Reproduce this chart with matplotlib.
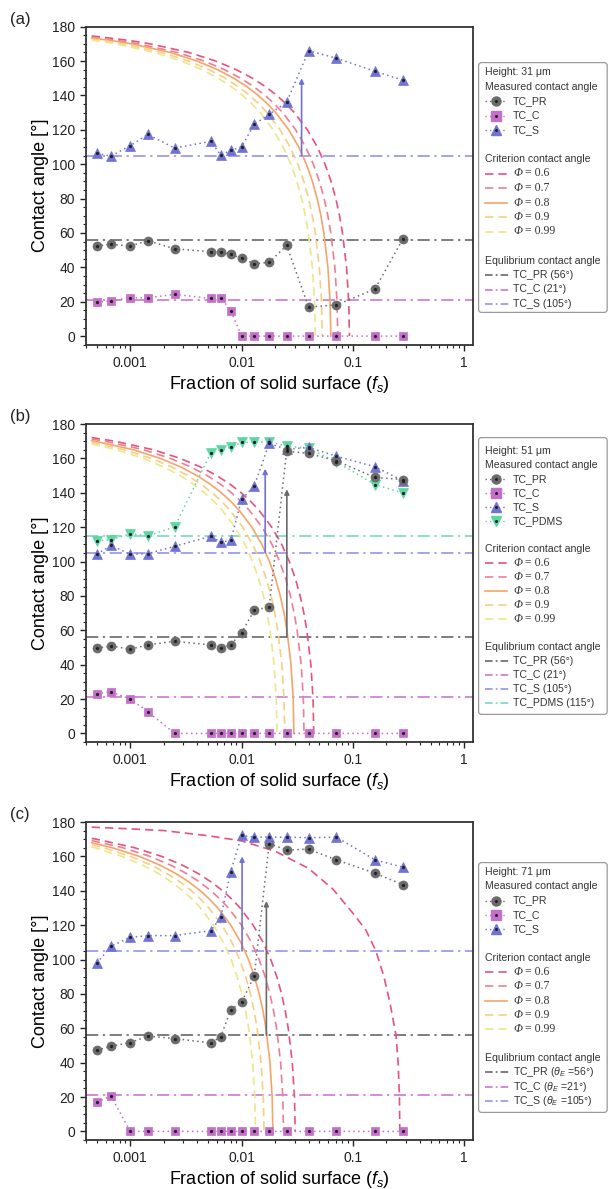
import matplotlib
matplotlib.use("Agg")
import matplotlib.pyplot as plt
from matplotlib.patches import FancyBboxPatch
from matplotlib.ticker import MultipleLocator, LogLocator, NullFormatter

plt.rcParams['font.family'] = ['Liberation Sans', 'DejaVu Sans']
plt.rcParams['mathtext.fontset'] = 'custom'
plt.rcParams['mathtext.rm'] = 'Liberation Sans'
plt.rcParams['mathtext.it'] = 'Liberation Sans:italic'

W, H = 609, 1189

# fraction of solid surface of the measured samples
FS = [0.0005, 0.00067, 0.001, 0.00144, 0.0025, 0.0053, 0.0065, 0.008,
      0.01, 0.013, 0.0177, 0.0254, 0.04, 0.071, 0.158, 0.28]

# (a) height 31 um
A_PR = [52.4, 53.4, 52.4, 55.5, 50.8, 49.1, 49.1, 47.5, 45.2, 42.1, 42.9, 52.8, 16.9, 18.1, 27.4, 56.3]
A_C = [19.6, 20.6, 22.3, 22.3, 24.3, 21.9, 22.3, 14.8, 0, 0, 0, 0, 0, 0, 0, 0]
A_S = [106.3, 104.7, 110.8, 117.3, 109.4, 113.3, 105.3, 108, 110.2, 123.2, 129, 136, 166, 161.7, 154, 149]

# (b) height 51 um
B_PR = [49.5, 50.9, 49.0, 51.5, 53.6, 51.5, 49.5, 51.7, 58.5, 71.7, 73.5, 164.2, 162.9, 158.6, 148.9, 147.7]
B_C = [22.9, 24.3, 20.0, 12.6, 0, 0, 0, 0, 0, 0, 0, 0, 0, 0, 0, 0]
B_S = [104.2, 109.4, 104.2, 104.6, 108.8, 114.7, 111.2, 112.3, 136.1, 144.0, 168.7, 165.2, 166.4, 161.3, 155.1, 147.0]
B_PDMS = [112.0, 112.7, 116.2, 114.9, 120.1, 163.3, 164.8, 166.4, 169.3, 169.3, 169.7, 167.1, 165.8, 158.0, 144.8, 139.9]

# (c) height 71 um
C_PR = [47.2, 49.5, 51.7, 55.4, 54.0, 51.5, 55.0, 70.9, 75.0, 90.6, 167.4, 163.7, 164.2, 158.0, 150.2, 143.6]
C_C = [17.1, 20.6, 0, 0, 0, 0, 0, 0, 0, 0, 0, 0, 0, 0, 0, 0]
C_S = [97.8, 107.7, 112.9, 113.9, 113.9, 116.8, 124.6, 151.2, 172.2, 171.2, 171.2, 171.2, 170.9, 171.2, 158.0, 153.7]

# equilibrium contact angles
EQ_PR, EQ_C, EQ_S, EQ_PDMS = 56, 21, 105, 115

# arrows: (fs, from, to)
A_ARROWS = [(0.0346, 105, 150)]
B_ARROWS = [(0.0163, 105, 154), (0.0255, 56, 142)]
C_ARROWS = [(0.0101, 105, 160), (0.0167, 56, 134)]

# criterion curves: angle levels and the fs where each curve crosses them
CRIT_THETA = [176, 174, 172, 170, 165, 160, 155, 150, 145, 140, 135, 130,
              120, 110, 100, 90, 80, 70, 60, 40, 20, 0]
CRIT_FS0 = 0.00045   # left start of the curves
PHI = [0.6, 0.7, 0.8, 0.9, 0.99]

A_START = [174.6, 173.9, 173.4, 172.8, 172.3]
A_CRIT = [
    [0.00055, 0.000975, 0.001517, 0.003366, 0.00587, 0.008952, 0.01252, 0.01649, 0.02075, 0.02521, 0.0298,
     0.03902, 0.04793, 0.05621, 0.06368, 0.07025, 0.07591, 0.08068, 0.08773, 0.09178, 0.0931],
    [0.000765, 0.001191, 0.002643, 0.004609, 0.007029, 0.009832, 0.012945, 0.01629, 0.019795, 0.023394,
     0.030637, 0.037636, 0.044138, 0.05, 0.055158, 0.059599, 0.063345, 0.068884, 0.072065, 0.0731],
    [0.000663, 0.001032, 0.002289, 0.003991, 0.006086, 0.008514, 0.011209, 0.014106, 0.017142, 0.020258,
     0.02653, 0.032591, 0.038221, 0.043297, 0.047764, 0.051609, 0.054853, 0.059649, 0.062404, 0.0633],
    [0.000555, 0.000864, 0.001916, 0.003342, 0.005096, 0.007129, 0.009385, 0.011811, 0.014352, 0.016962,
     0.022213, 0.027288, 0.032001, 0.036251, 0.039992, 0.043211, 0.045927, 0.049943, 0.05225, 0.053],
    [0.000481, 0.000748, 0.00166, 0.002894, 0.004413, 0.006174, 0.008128, 0.010229, 0.01243, 0.014689,
     0.019237, 0.023632, 0.027714, 0.031395, 0.034634, 0.037423, 0.039775, 0.043253, 0.04525, 0.0459],
]
B_START = [172.1, 171.3, 170.3, 169.35, 168.45]
B_CRIT = [
    [0.000725, 0.001609, 0.002806, 0.004279, 0.005985, 0.00788, 0.009917, 0.012051, 0.014241, 0.01865,
     0.022911, 0.026869, 0.030438, 0.033578, 0.036281, 0.038561, 0.041934, 0.04387, 0.0445],
    [0.000593, 0.001316, 0.002295, 0.0035, 0.004896, 0.006446, 0.008112, 0.009857, 0.011649, 0.015256,
     0.018741, 0.021978, 0.024897, 0.027466, 0.029677, 0.031542, 0.034301, 0.035885, 0.0364],
    [0.000481, 0.001067, 0.00186, 0.002836, 0.003968, 0.005224, 0.006574, 0.007989, 0.009441, 0.012364,
     0.015188, 0.017812, 0.020178, 0.02226, 0.024052, 0.025563, 0.027799, 0.029082, 0.0295],
    [0.000882, 0.001539, 0.002346, 0.003282, 0.004321, 0.005438, 0.006608, 0.007809, 0.010226, 0.012563,
     0.014733, 0.016689, 0.018411, 0.019894, 0.021144, 0.022993, 0.024054, 0.0244],
    [0.000752, 0.001312, 0.002, 0.002798, 0.003683, 0.004635, 0.005633, 0.006657, 0.008717, 0.010709,
     0.012559, 0.014227, 0.015695, 0.016958, 0.018024, 0.0196, 0.020505, 0.0208],
]
C_START = [170.46, 169.2, 167.95, 166.77, 165.5]
C_CRIT = [
    [0.000494, 0.001096, 0.001911, 0.002913, 0.004075, 0.005366, 0.006752, 0.008205, 0.009697, 0.012699,
     0.0156, 0.018295, 0.020725, 0.022863, 0.024704, 0.026256, 0.028553, 0.029871, 0.0303],
    [0.00086, 0.001501, 0.002288, 0.003201, 0.004215, 0.005304, 0.006445, 0.007617, 0.009975, 0.012254,
     0.01437, 0.016279, 0.017959, 0.019404, 0.020624, 0.022427, 0.023463, 0.0238],
    [0.000691, 0.001204, 0.001836, 0.002569, 0.003382, 0.004256, 0.005172, 0.006113, 0.008005, 0.009834,
     0.011533, 0.013064, 0.014412, 0.015572, 0.016551, 0.017999, 0.01883, 0.0191],
    [0.000575, 0.001003, 0.001529, 0.002139, 0.002816, 0.003543, 0.004306, 0.005088, 0.006664, 0.008186,
     0.0096, 0.010875, 0.011998, 0.012963, 0.013778, 0.014983, 0.015675, 0.0159],
    [0.000482, 0.000841, 0.001283, 0.001794, 0.002362, 0.002973, 0.003612, 0.004269, 0.005591, 0.006868,
     0.008055, 0.009124, 0.010066, 0.010876, 0.01156, 0.012571, 0.013151, 0.01334],
]
# extra wide curve in (c), read point by point
C_ARC_FS = [0.00045, 0.001, 0.002, 0.005, 0.01, 0.02, 0.04, 0.066, 0.1, 0.131,
            0.161, 0.19, 0.215, 0.244, 0.255, 0.262, 0.264]
C_ARC_TH = [177, 176, 175, 172, 169, 163, 153, 141, 127, 117,
            105, 90, 75, 56, 40, 20, 0]

# colours
PR_COL, C_COL, S_COL, PDMS_COL = '#6b6b6b', '#c46fc9', '#6f73d4', '#5ed6a4'
EQ_COLS = {'PR': '#5a5a5a', 'C': '#c86ccc', 'S': '#8a8ae8', 'PDMS': '#6cd6b8'}
CRIT_COLS = ['#e8527c', '#f07d96', '#f5a56b', '#f6cf83', '#eee68a']
CRIT_LS = [(0, (5, 3)), (0, (5, 3)), '-', (0, (5, 3)), (0, (5, 3))]
DOT = (0, (1, 2.2))
DASHDOT = (0, (8, 3, 1.5, 3))
TXT = '#333333'
LEG_FS = 7.6

fig = plt.figure(figsize=(W / 100, H / 100), dpi=100)


def px_rect(l, t, r, b):
    return [l / W, 1 - b / H, (r - l) / W, (b - t) / H]


def series(ax, y, col, marker, ms=6.5):
    ax.plot(FS, y, linestyle=DOT, color=col, lw=1.1, marker=marker, ms=ms,
            mfc=col, mec=col, mew=0.5, zorder=4)
    ax.plot(FS, y, 'o', ms=1.3, color='#222222', zorder=5, ls='none')


def crit(ax, starts, curves):
    for i, fs in enumerate(curves):
        th = CRIT_THETA[-len(fs):]
        ax.plot([CRIT_FS0] + fs, [starts[i]] + th, color=CRIT_COLS[i],
                ls=CRIT_LS[i], lw=1.2, zorder=2)


def style_axes(ax):
    ax.set_xscale('log')
    ax.set_xlim(4e-4, 1.2)
    ax.set_ylim(-5, 180)
    ax.set_yticks(range(0, 181, 20))
    ax.yaxis.set_minor_locator(MultipleLocator(5))
    ax.set_xticks([0.001, 0.01, 0.1, 1])
    ax.set_xticklabels(['0.001', '0.01', '0.1', '1'])
    ax.xaxis.set_minor_locator(LogLocator(base=10, subs=range(2, 10)))
    ax.xaxis.set_minor_formatter(NullFormatter())
    ax.tick_params(which='major', direction='out', length=4.5, width=1,
                   labelsize=10, colors='#222222')
    ax.tick_params(which='minor', direction='out', length=2.5, width=0.8,
                   colors='#222222')
    for s in ax.spines.values():
        s.set_color('#333333')
        s.set_linewidth(1.3)
    ax.set_xlabel(r'Fraction of solid surface ($f_s$)', fontsize=13, labelpad=3)
    ax.set_ylabel('Contact angle [°]', fontsize=13, labelpad=2)


def arrows(ax, items, cols):
    for (x, y0, y1), c in zip(items, cols):
        ax.annotate('', xy=(x, y1), xytext=(x, y0),
                    arrowprops=dict(arrowstyle='-|>', color=c, lw=1.2,
                                    mutation_scale=7, shrinkA=0, shrinkB=0),
                    zorder=6)


def legend(box, first, step, rows):
    l, t, r, b = box
    lax = fig.add_axes(px_rect(l, t, r, b))
    lax.set_xlim(0, r - l)
    lax.set_ylim(b - t, 0)
    lax.axis('off')
    lax.add_patch(FancyBboxPatch((0.6, 0.6), r - l - 1.4, b - t - 1.2,
                                 boxstyle='round,pad=0,rounding_size=3',
                                 fc='white', ec='#9a9a9a', lw=0.9, clip_on=False))
    for i, row in enumerate(rows):
        y = first + i * step
        kind = row[0]
        if kind == 'head':
            lax.text(7, y, row[1], fontsize=LEG_FS, color=TXT, va='center')
        elif kind == 'mark':
            _, lab, col, mk = row
            lax.plot([7, 29], [y, y], ls=DOT, color=col, lw=1.0)
            lax.plot(18, y, marker=mk, ms=6.5, color=col, ls='none')
            lax.plot(18, y, 'o', ms=1.2, color='#222222', ls='none')
            lax.text(35, y, lab, fontsize=LEG_FS, color=TXT, va='center')
        elif kind == 'phi':
            _, k = row
            lax.plot([7, 29], [y, y], ls=CRIT_LS[k], color=CRIT_COLS[k], lw=1.2)
            lax.text(35, y, 'Φ', family='Liberation Serif', style='italic',
                     fontsize=8.5, color=TXT, va='center')
            lax.text(47, y, '= %g' % PHI[k], family='Liberation Serif',
                     fontsize=8.5, color=TXT, va='center')
        elif kind == 'eq':
            _, lab, col = row
            lax.plot([7, 31], [y, y], ls=(0, (5, 2, 1.2, 2)), color=col, lw=1.1)
            lax.text(35, y, lab, fontsize=LEG_FS, color=TXT, va='center')


AX_TOPS = [26.7, 424, 822]
AX_H = 318
panels = []
for t in AX_TOPS:
    panels.append(fig.add_axes(px_rect(86, t, 473, t + AX_H)))

# ---- panel (a)
ax = panels[0]
for v, k in [(EQ_PR, 'PR'), (EQ_C, 'C'), (EQ_S, 'S')]:
    ax.axhline(v, ls=DASHDOT, color=EQ_COLS[k], lw=1.1, zorder=1)
crit(ax, A_START, A_CRIT)
series(ax, A_PR, PR_COL, 'o')
series(ax, A_C, C_COL, 's', 6)
series(ax, A_S, S_COL, '^', 7)
arrows(ax, A_ARROWS, [S_COL])
style_axes(ax)

# ---- panel (b)
ax = panels[1]
for v, k in [(EQ_PR, 'PR'), (EQ_C, 'C'), (EQ_S, 'S'), (EQ_PDMS, 'PDMS')]:
    ax.axhline(v, ls=DASHDOT, color=EQ_COLS[k], lw=1.1, zorder=1)
crit(ax, B_START, B_CRIT)
series(ax, B_PDMS, PDMS_COL, 'v', 7)
series(ax, B_C, C_COL, 's', 6)
series(ax, B_S, S_COL, '^', 7)
series(ax, B_PR, PR_COL, 'o')
arrows(ax, B_ARROWS, [S_COL, '#6b6b6b'])
style_axes(ax)

# ---- panel (c)
ax = panels[2]
for v, k in [(EQ_PR, 'PR'), (EQ_C, 'C'), (EQ_S, 'S')]:
    ax.axhline(v, ls=DASHDOT, color=EQ_COLS[k], lw=1.1, zorder=1)
ax.plot(C_ARC_FS, C_ARC_TH, color=CRIT_COLS[0], ls=CRIT_LS[0], lw=1.2, zorder=2)
crit(ax, C_START, C_CRIT)
series(ax, C_PR, PR_COL, 'o')
series(ax, C_C, C_COL, 's', 6)
series(ax, C_S, S_COL, '^', 7)
arrows(ax, C_ARROWS, [S_COL, '#6b6b6b'])
style_axes(ax)

for t, lab in zip(AX_TOPS, ['(a)', '(b)', '(c)']):
    fig.text(10 / W, 1 - (t - 7) / H, lab, fontsize=12, va='center', ha='left', color='#222222')

meas = [('mark', 'TC_PR', PR_COL, 'o'), ('mark', 'TC_C', C_COL, 's'), ('mark', 'TC_S', S_COL, '^')]
phis = [('phi', k) for k in range(5)]

legend((478, 62, 608, 313), 10, 14.5,
       [('head', 'Height: 31 μm'), ('head', 'Measured contact angle')] + meas +
       [('blank',), ('head', 'Criterion contact angle')] + phis +
       [('blank',), ('head', 'Equlibrium contact angle'),
        ('eq', 'TC_PR (56°)', EQ_COLS['PR']), ('eq', 'TC_C (21°)', EQ_COLS['C']),
        ('eq', 'TC_S (105°)', EQ_COLS['S'])])

legend((478, 437, 608, 715), 14, 14.0,
       [('head', 'Height: 51 μm'), ('head', 'Measured contact angle')] + meas +
       [('mark', 'TC_PDMS', PDMS_COL, 'v'), ('blank',), ('head', 'Criterion contact angle')] + phis +
       [('blank',), ('head', 'Equlibrium contact angle'),
        ('eq', 'TC_PR (56°)', EQ_COLS['PR']), ('eq', 'TC_C (21°)', EQ_COLS['C']),
        ('eq', 'TC_S (105°)', EQ_COLS['S']), ('eq', 'TC_PDMS (115°)', EQ_COLS['PDMS'])])

legend((478, 862, 608, 1113), 10, 14.3,
       [('head', 'Height: 71 μm'), ('head', 'Measured contact angle')] + meas +
       [('blank',), ('head', 'Criterion contact angle')] + phis +
       [('blank',), ('head', 'Equlibrium contact angle'),
        ('eq', r'TC_PR ($\theta_E$ =56°)', EQ_COLS['PR']),
        ('eq', r'TC_C ($\theta_E$ =21°)', EQ_COLS['C']),
        ('eq', r'TC_S ($\theta_E$ =105°)', EQ_COLS['S'])])

fig.savefig('out.png', dpi=100, facecolor='white')
